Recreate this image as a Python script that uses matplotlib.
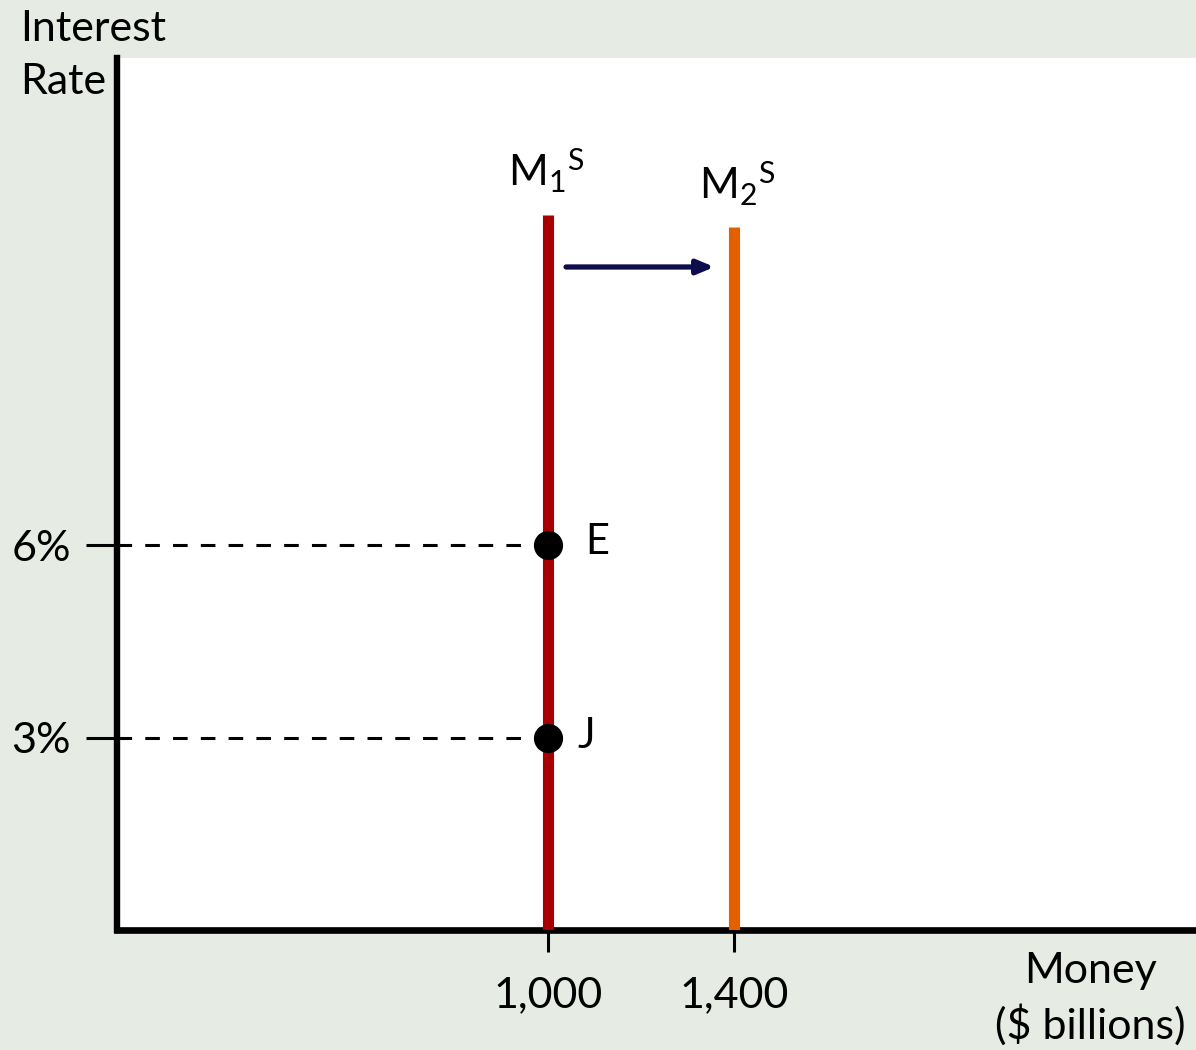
import matplotlib
matplotlib.use("Agg")
import matplotlib.pyplot as plt

# money supply curves (quantity in $ billions)
supply_labels = ["M_1{}^S", "M_2{}^S"]
supply_qty = [1000, 1400]
supply_top = [11.15, 10.97]
supply_colors = ["#a80000", "#e35f00"]

# equilibrium points on M1
point_names = ["E", "J"]
point_rates = [6, 3]

x_ticks = [1000, 1400]
x_ticklabels = ["1,000", "1,400"]
y_ticks = [3, 6]
y_ticklabels = ["3%", "6%"]

# shift arrow
arrow_from = (1039, 10.34)
arrow_to = (1358, 10.34)

plt.rcParams['font.family'] = ['Lato', 'DejaVu Sans']
plt.rcParams['lines.scale_dashes'] = False

bg = "#e6ebe4"
fs = 31
fig = plt.figure(figsize=(11.96, 10.5), dpi=100, facecolor=bg)
ax = fig.add_axes([0.0978, 0.1143, 0.9022, 0.8305])
ax.set_facecolor("white")
ax.set_xlim(73, 2394)
ax.set_ylim(0, 13.6)

for s in ["top", "right"]:
    ax.spines[s].set_visible(False)
ax.spines["left"].set_linewidth(4.6)
ax.spines["bottom"].set_linewidth(4.8)

# supply lines
for q, top, c in zip(supply_qty, supply_top, supply_colors):
    ax.plot([q, q], [0, top], color=c, lw=8, solid_capstyle="butt", zorder=3)

# labels above supply lines
label_pos = [(915, 11.6), (1325, 11.4)]
for lab, (xx, yy) in zip(supply_labels, label_pos):
    ax.text(xx, yy, "$\\mathregular{" + lab + "}$",
            fontsize=fs, ha="left", va="baseline", zorder=5)

# dashed guides and points
for name, r in zip(point_names, point_rates):
    ax.plot([73, 960], [r, r], color="black", lw=2.2, dashes=(10.5, 9.5), zorder=2)
    ax.plot(supply_qty[0], r, "o", color="black", ms=20, zorder=4)
ax.text(1080, point_rates[0] + 0.05, point_names[0], fontsize=fs - 1, va="center", ha="left")
ax.text(1064, point_rates[1] + 0.03, point_names[1], fontsize=fs - 1, va="center", ha="left")

# arrow
ax.annotate("", xy=arrow_to, xytext=arrow_from,
            arrowprops=dict(arrowstyle="-|>,head_length=1.0,head_width=0.42",
                            color="#0d0d4d", lw=3.8, shrinkA=0, shrinkB=0))

ax.set_xticks(x_ticks)
ax.set_xticklabels(x_ticklabels, fontsize=fs)
ax.set_yticks(y_ticks)
ax.set_yticklabels(y_ticklabels, fontsize=fs)
ax.tick_params(axis="x", direction="out", length=16, width=2.2, pad=17)
ax.tick_params(axis="y", direction="out", length=22, width=2.2, pad=11)

fig.text(20 / 1196, 1 - 10 / 1050, "Interest\nRate", fontsize=fs, ha="left", va="top",
         linespacing=1.5)
fig.text(1090 / 1196, 1 - 952 / 1050, "Money\n($ billions)", fontsize=fs, ha="center",
         va="top", linespacing=1.4)

fig.savefig("out.png", dpi=100, facecolor=bg)
